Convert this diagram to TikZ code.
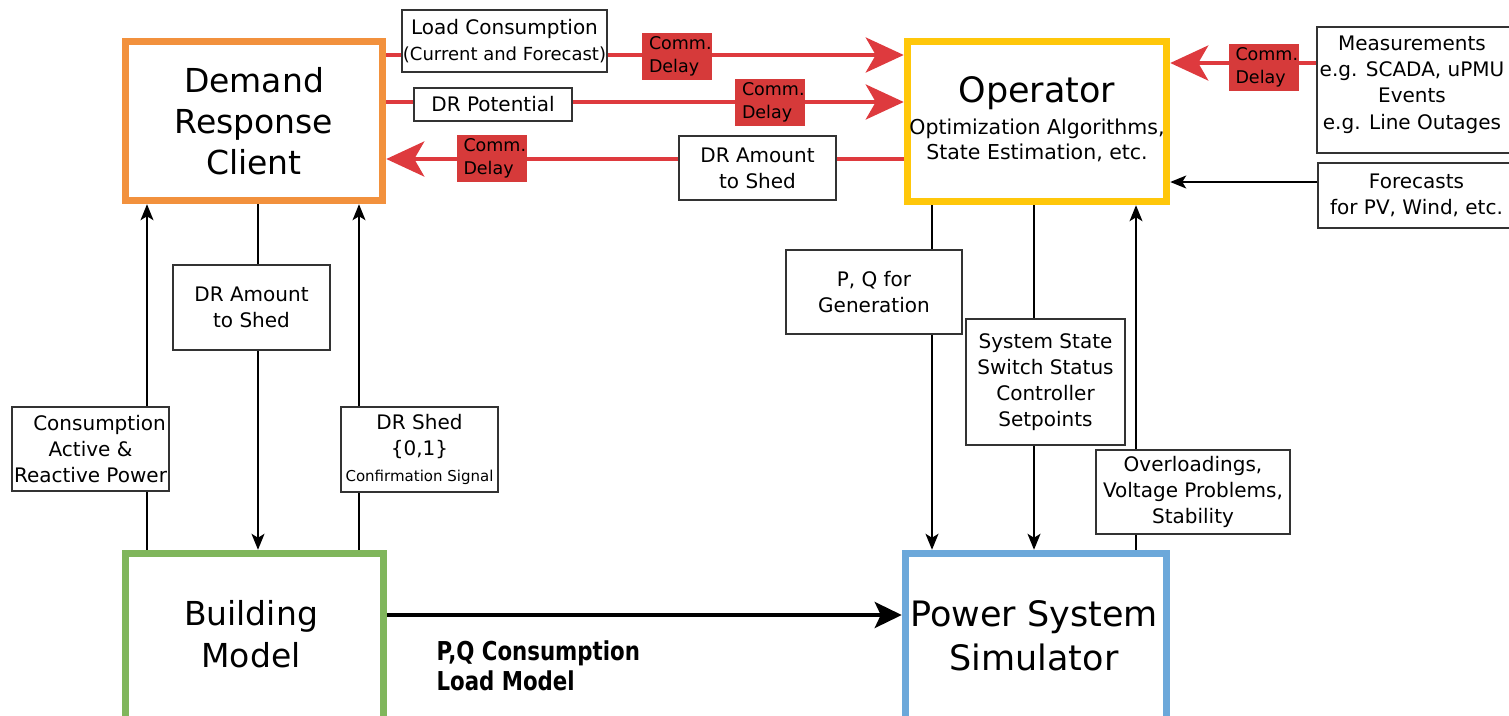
\documentclass[tikz,border=0pt]{standalone}
\usepackage{fontspec}
\setmainfont{DejaVu Sans}
\newfontfamily\condsans{DejaVu Sans}[FakeStretch=0.82]
\usetikzlibrary{arrows.meta}

\definecolor{drorange}{HTML}{F2913D}
\definecolor{opyellow}{HTML}{FFC70A}
\definecolor{bmgreen}{HTML}{80B65C}
\definecolor{psblue}{HTML}{6CA8DA}
\definecolor{commred}{HTML}{D63A3A}
\definecolor{linered}{HTML}{DE3A3E}

\begin{document}
\begin{tikzpicture}[x=1pt,y=-1pt,
  mainbox/.style={draw, line width=7.5pt, fill=white, inner sep=0pt, align=center},
  lbl/.style={draw=black!80, line width=1.3pt, fill=white, inner sep=0pt, align=center,
    font=\fontsize{20}{26}\selectfont},
  commbox/.style={fill=commred, inner xsep=7pt, inner ysep=0pt, text width=56pt,
    minimum height=47pt, align=left, font=\fontsize{17.5}{23}\selectfont},
  redlink/.style={draw=linered, line width=4pt, -{Stealth[length=38pt,width=35pt,inset=10pt]}},
  flow/.style={draw=black, line width=1.3pt, -{Stealth[length=16pt,width=13pt,inset=4pt]}},
  bigflow/.style={draw=black, line width=3.5pt, -{Stealth[length=27pt,width=26pt,inset=6pt]}},
]
\useasboundingbox (0,0) rectangle (1509,715);
\clip (0,0) rectangle (1509,715);

% ---- main blocks ----
\node[mainbox, draw=drorange, minimum width=257pt, minimum height=159pt,
      font=\fontsize{33}{41}\selectfont] (drc) at (254,121) {Demand\\Response\\Client};
\node[mainbox, draw=opyellow, minimum width=259pt, minimum height=160pt] (op) at (1037,121.5) {};
\node[font=\fontsize{35}{41}\selectfont] (optitle) at (1037,93) {Operator};
\node[font=\fontsize{20.5}{25}\selectfont, align=center] (opsub) at (1037,140.5)
      {Optimization Algorithms,\\State Estimation, etc.};
\node[mainbox, draw=bmgreen, minimum width=258pt, minimum height=200pt] (bm) at (254.5,653.5) {};
\node[font=\fontsize{33}{42}\selectfont, align=center] (bmtext) at (251,634) {Building\\Model};
\node[mainbox, draw=psblue, minimum width=261pt, minimum height=200pt] (pss) at (1036,653.5) {};
\node[font=\fontsize{35}{44}\selectfont, align=center] (psstext) at (1034,636) {Power System\\Simulator};

% ---- external inputs ----
\node[lbl, minimum width=198pt, minimum height=126pt] (meas) at (1416,90) {};
\node[font=\fontsize{20}{26.3}\selectfont, align=center] (meastext) at (1412,84.5)
      {Measurements\\e.g. SCADA, uPMU\\Events\\e.g. Line Outages};
\node[lbl, minimum width=197pt, minimum height=65pt] (fc) at (1416.5,195.5)
      {Forecasts\\for PV, Wind, etc.};

% ---- connector levels ----
\coordinate (yload) at (0,55);
\coordinate (ypot) at (0,102);
\coordinate (yshed) at (0,159);
\coordinate (ymeas) at (0,63);
\coordinate (yfc) at (0,182);
\coordinate (yflow) at (0,615);
\coordinate (xa) at (147,0);
\coordinate (xb) at (258,0);
\coordinate (xc) at (359,0);
\coordinate (xd) at (932,0);
\coordinate (xe) at (1034,0);
\coordinate (xf) at (1136,0);

% ---- communication links ----
\draw[redlink] (drc.east |- yload) -- (op.west |- yload);
\draw[redlink] (drc.east |- ypot) -- (op.west |- ypot);
\draw[redlink] (op.west |- yshed) -- (drc.east |- yshed);
\draw[redlink] (meas.west |- ymeas) -- (op.east |- ymeas);
\draw[flow] (fc.west |- yfc) -- (op.east |- yfc);

% ---- vertical signal flows ----
\draw[flow] (bm.north -| xa) -- (drc.south -| xa);
\draw[flow] (drc.south -| xb) -- (bm.north -| xb);
\draw[flow] (bm.north -| xc) -- (drc.south -| xc);
\draw[flow] (op.south -| xd) -- (pss.north -| xd);
\draw[flow] (op.south -| xe) -- (pss.north -| xe);
\draw[flow] (pss.north -| xf) -- (op.south -| xf);
\draw[bigflow] (bm.east |- yflow) -- (pss.west |- yflow);

% ---- labels on the links ----
\node[lbl, minimum width=205pt, minimum height=62pt] (lc) at (504.5,41)
      {Load Consumption\\{\fontsize{18}{24}\selectfont(Current and Forecast)}};
\node[lbl, minimum width=158pt, minimum height=33pt] (drp) at (493,104.5) {DR Potential};
\node[lbl, minimum width=157pt, minimum height=64pt] (drs1) at (757.5,168) {DR Amount\\to Shed};

\node[commbox] (cd1) at (677,56.5) {Comm.\\Delay};
\node[commbox] (cd2) at (770,102.5) {Comm.\\Delay};
\node[commbox] (cd3) at (491.5,158) {Comm.\\Delay};
\node[commbox] (cd4) at (1263.5,67.5) {Comm.\\Delay};

\node[lbl, minimum width=157pt, minimum height=84pt] (cons) at (90.5,449)
      {\hspace*{18pt}Consumption\\Active \&\\Reactive Power};
\node[lbl, minimum width=157pt, minimum height=85pt] (drs2) at (251.5,307.5) {DR Amount\\to Shed};
\node[lbl, minimum width=157pt, minimum height=85pt] (shed) at (419.5,449.5)
      {DR Shed\\\{0,1\}\\{\fontsize{15}{22}\selectfont Confirmation Signal}};

\node[lbl, minimum width=176pt, minimum height=84pt] (pqg) at (874,292) {P, Q for\\Generation};
\node[lbl, minimum width=159pt, minimum height=126pt] (sss) at (1045.5,382)
      {System State\\Switch Status\\Controller\\Setpoints};
\node[lbl, minimum width=194pt, minimum height=84pt] (ovl) at (1193,492)
      {Overloadings,\\Voltage Problems,\\Stability};

\node[font=\condsans\bfseries\fontsize{26}{30}\selectfont, align=left, anchor=west] (pqlabel)
      at (433,666) {P,Q Consumption\\Load Model};
\end{tikzpicture}
\end{document}
